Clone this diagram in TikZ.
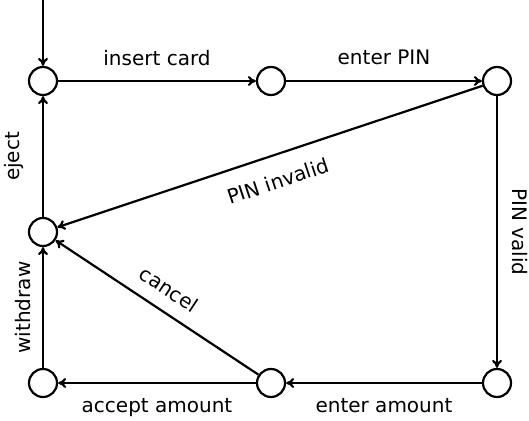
\documentclass[tikz,border=0pt]{standalone}
\usepackage{fontspec}
\usetikzlibrary{arrows.meta}
\setmainfont{DejaVu Sans}
\begin{document}
\begin{tikzpicture}[x=0.5pt,y=-0.5pt,
  state/.style={circle,draw,line width=1.1pt,minimum size=14pt,inner sep=0pt},
  edge/.style={-{To[length=4pt,width=5pt]},line width=1.1pt},
  lbl/.style={font=\fontsize{10}{12}\selectfont,inner xsep=0pt}]
% page area
\fill[white] (0,0) rectangle (529,421);
\useasboundingbox (0,0) rectangle (529,421);

% states of the cash machine
\node[state] (ready)    at (43,81)   {};
\node[state] (carded)   at (271,81)  {};
\node[state] (entered)  at (497,81)  {};
\node[state] (ejecting) at (43,232)  {};
\node[state] (paying)   at (43,383)  {};
\node[state] (menu)     at (271,383) {};
\node[state] (valid)    at (497,383) {};
\coordinate (start) at (43,0);

% transitions
\draw[edge] (start) -- (ready);
\draw[edge] (ready) -- node[lbl,anchor=south,inner ysep=7pt] {insert card} (carded);
\draw[edge] (carded) -- node[lbl,anchor=south,inner ysep=7.5pt] {enter PIN} (entered);
\draw[edge] (entered) -- node[lbl,sloped,anchor=north,inner ysep=8.5pt] {PIN invalid} (ejecting);
\draw[edge] (entered) -- node[lbl,rotate=-90,anchor=south,inner ysep=7pt] {PIN valid} (valid);
\draw[edge] (valid) -- node[lbl,anchor=north,inner ysep=7pt] {enter amount} (menu);
\draw[edge] (menu) -- node[lbl,anchor=north,inner ysep=7pt] {accept amount} (paying);
\draw[edge] (menu) -- node[lbl,sloped,anchor=south,inner ysep=6.5pt] {cancel} (ejecting);
\draw[edge] (paying) -- node[lbl,rotate=90,anchor=south,inner ysep=5.5pt] {withdraw} (ejecting);
\draw[edge] (ejecting) -- node[lbl,rotate=90,anchor=south,inner ysep=9pt] {eject} (ready);
\end{tikzpicture}
\end{document}
